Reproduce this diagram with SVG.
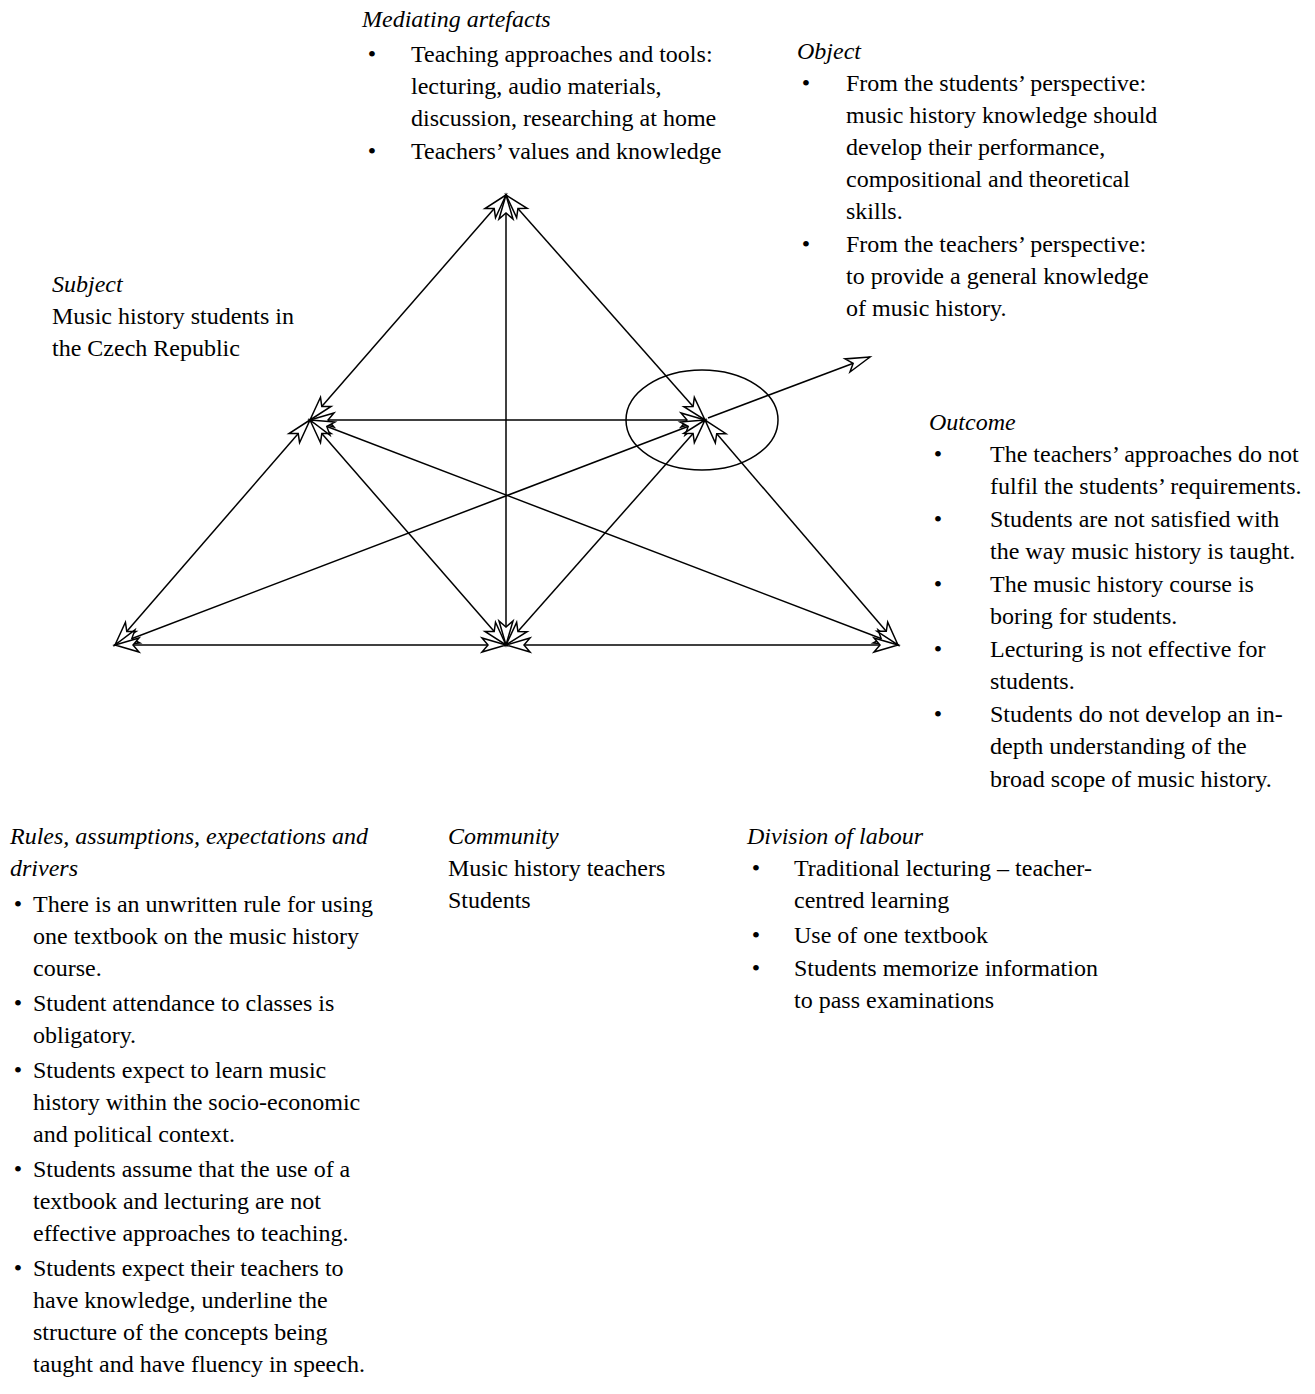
<svg xmlns="http://www.w3.org/2000/svg" width="1315" height="1394" viewBox="0 0 1315 1394">
<style>
text{font-family:"Liberation Serif","Times New Roman",serif;font-size:24px;fill:#000}
.h{font-style:italic}
.b{text-anchor:middle}
.c{stroke:#000;stroke-width:1.5;fill:none}
</style>
<defs>
<marker id="ah" viewBox="-27 -9 30 18" markerWidth="30" markerHeight="18" refX="0" refY="0" orient="auto-start-reverse" markerUnits="userSpaceOnUse" overflow="visible">
<path d="M0,0 L-24,-7 L-18,0 L-24,7 Z" fill="#fff" stroke="#000" stroke-width="1.5" stroke-linejoin="miter"/>
</marker>
</defs>
<rect width="1315" height="1394" fill="#fff"/>
<g id="connectors">
<ellipse class="c" cx="702" cy="420" rx="76" ry="50"/>
<line class="c" x1="506" y1="195" x2="310" y2="420" marker-start="url(#ah)" marker-end="url(#ah)"/>
<line class="c" x1="506" y1="195" x2="705" y2="420" marker-start="url(#ah)" marker-end="url(#ah)"/>
<line class="c" x1="506" y1="195" x2="506" y2="645" marker-start="url(#ah)" marker-end="url(#ah)"/>
<line class="c" x1="310" y1="420" x2="705" y2="420" marker-start="url(#ah)" marker-end="url(#ah)"/>
<line class="c" x1="310" y1="420" x2="115" y2="645" marker-start="url(#ah)" marker-end="url(#ah)"/>
<line class="c" x1="310" y1="420" x2="506" y2="645" marker-start="url(#ah)" marker-end="url(#ah)"/>
<line class="c" x1="310" y1="420" x2="898" y2="645" marker-start="url(#ah)" marker-end="url(#ah)"/>
<line class="c" x1="705" y1="420" x2="115" y2="645" marker-start="url(#ah)" marker-end="url(#ah)"/>
<line class="c" x1="705" y1="420" x2="506" y2="645" marker-start="url(#ah)" marker-end="url(#ah)"/>
<line class="c" x1="705" y1="420" x2="898" y2="645" marker-start="url(#ah)" marker-end="url(#ah)"/>
<line class="c" x1="115" y1="645" x2="506" y2="645" marker-start="url(#ah)" marker-end="url(#ah)"/>
<line class="c" x1="506" y1="645" x2="898" y2="645" marker-start="url(#ah)" marker-end="url(#ah)"/>
<line class="c" x1="708" y1="418" x2="870" y2="357" marker-end="url(#ah)"/>
</g>
<g id="mediating">
<text class="h" x="362" y="27">Mediating artefacts</text>
<text class="b" x="372" y="62">•</text>
<text x="411" y="62">Teaching approaches and tools:</text>
<text x="411" y="94">lecturing, audio materials,</text>
<text x="411" y="126">discussion, researching at home</text>
<text class="b" x="372" y="159">•</text>
<text x="411" y="159">Teachers’ values and knowledge</text>
</g>
<g id="object">
<text class="h" x="797" y="59">Object</text>
<text class="b" x="806" y="91">•</text>
<text x="846" y="91">From the students’ perspective:</text>
<text x="846" y="123">music history knowledge should</text>
<text x="846" y="155">develop their performance,</text>
<text x="846" y="187">compositional and theoretical</text>
<text x="846" y="219">skills.</text>
<text class="b" x="806" y="252">•</text>
<text x="846" y="252">From the teachers’ perspective:</text>
<text x="846" y="284">to provide a general knowledge</text>
<text x="846" y="316">of music history.</text>
</g>
<g id="subject">
<text class="h" x="52" y="292">Subject</text>
<text x="52" y="324">Music history students in</text>
<text x="52" y="356">the Czech Republic</text>
</g>
<g id="outcome">
<text class="h" x="929" y="430">Outcome</text>
<text class="b" x="938" y="462">•</text>
<text x="990" y="462">The teachers’ approaches do not</text>
<text x="990" y="494">fulfil the students’ requirements.</text>
<text class="b" x="938" y="527">•</text>
<text x="990" y="527">Students are not satisfied with</text>
<text x="990" y="559">the way music history is taught.</text>
<text class="b" x="938" y="592">•</text>
<text x="990" y="592">The music history course is</text>
<text x="990" y="624">boring for students.</text>
<text class="b" x="938" y="657">•</text>
<text x="990" y="657">Lecturing is not effective for</text>
<text x="990" y="689">students.</text>
<text class="b" x="938" y="722">•</text>
<text x="990" y="722">Students do not develop an in-</text>
<text x="990" y="754">depth understanding of the</text>
<text x="990" y="787">broad scope of music history.</text>
</g>
<g id="rules">
<text class="h" x="10" y="844">Rules, assumptions, expectations and</text>
<text class="h" x="10" y="876">drivers</text>
<text class="b" x="18" y="912">•</text>
<text x="33" y="912">There is an unwritten rule for using</text>
<text x="33" y="944">one textbook on the music history</text>
<text x="33" y="976">course.</text>
<text class="b" x="18" y="1011">•</text>
<text x="33" y="1011">Student attendance to classes is</text>
<text x="33" y="1043">obligatory.</text>
<text class="b" x="18" y="1078">•</text>
<text x="33" y="1078">Students expect to learn music</text>
<text x="33" y="1110">history within the socio-economic</text>
<text x="33" y="1142">and political context.</text>
<text class="b" x="18" y="1177">•</text>
<text x="33" y="1177">Students assume that the use of a</text>
<text x="33" y="1209">textbook and lecturing are not</text>
<text x="33" y="1241">effective approaches to teaching.</text>
<text class="b" x="18" y="1276">•</text>
<text x="33" y="1276">Students expect their teachers to</text>
<text x="33" y="1308">have knowledge, underline the</text>
<text x="33" y="1340">structure of the concepts being</text>
<text x="33" y="1372">taught and have fluency in speech.</text>
</g>
<g id="community">
<text class="h" x="448" y="844">Community</text>
<text x="448" y="876">Music history teachers</text>
<text x="448" y="908">Students</text>
</g>
<g id="division">
<text class="h" x="747" y="844">Division of labour</text>
<text class="b" x="756" y="876">•</text>
<text x="794" y="876">Traditional lecturing – teacher-</text>
<text x="794" y="908">centred learning</text>
<text class="b" x="756" y="943">•</text>
<text x="794" y="943">Use of one textbook</text>
<text class="b" x="756" y="976">•</text>
<text x="794" y="976">Students memorize information</text>
<text x="794" y="1008">to pass examinations</text>
</g>
</svg>
